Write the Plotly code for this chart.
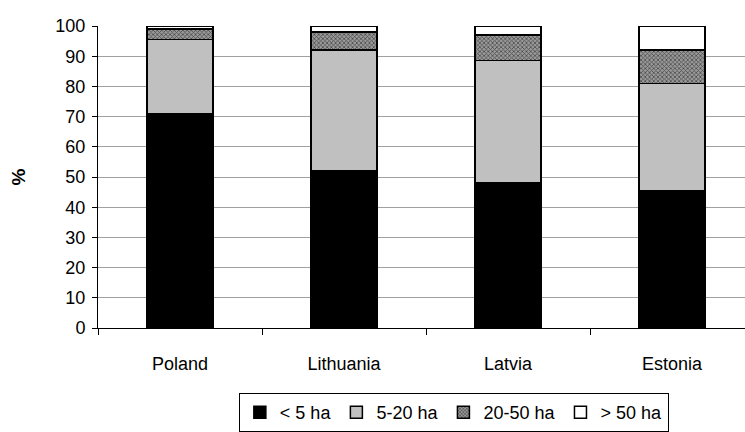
import plotly.graph_objects as go

countries = ["Poland", "Lithuania", "Latvia", "Estonia"]
size_groups = ["< 5 ha", "5-20 ha", "20-50 ha", "> 50 ha"]

share_lt5 = [71, 52, 48, 45.5]
share_5_20 = [24.5, 40, 40.5, 35.5]
share_20_50 = [3.5, 6, 8.5, 11]
share_gt50 = [1, 2, 3, 8]

y_ticks = [0, 10, 20, 30, 40, 50, 60, 70, 80, 90, 100]

series = [share_lt5, share_5_20, share_20_50, share_gt50]
fills = ["#000000", "#c0c0c0", "#8a8a8a", "#ffffff"]

fig = go.Figure()
for name, vals, col in zip(size_groups, series, fills):
    marker = dict(color=col, line=dict(color="#000000", width=1.5))
    if name == "20-50 ha":
        marker["pattern"] = dict(shape="x", fgcolor="#4a4a4a", bgcolor="#9a9a9a",
                                 size=3, solidity=0.45, fillmode="replace")
    fig.add_trace(go.Bar(x=countries, y=vals, name=name, marker=marker, width=0.4))

fig.update_layout(
    barmode="stack",
    width=745, height=432,
    margin=dict(l=98, r=0, t=26, b=102),
    paper_bgcolor="white", plot_bgcolor="white",
    font=dict(family="Liberation Sans, Arial, sans-serif", size=18, color="#000000"),
    showlegend=True,
    legend=dict(orientation="h", x=0.55, xanchor="center", y=-0.215, yanchor="top",
                bordercolor="#000000", borderwidth=1, font=dict(size=18),
                itemwidth=30, tracegroupgap=0, traceorder="normal"),
    xaxis=dict(range=[-0.5, 3.445], showline=True, linecolor="#000000", linewidth=1,
               ticks="outside", tickson="boundaries", ticklen=6, tickcolor="#000000",
               showgrid=False, ticklabelstandoff=19),
    yaxis=dict(range=[0, 100], tickvals=y_ticks, showline=True, linecolor="#000000",
               linewidth=1, ticks="outside", ticklen=5, tickcolor="#000000",
               showgrid=True, gridcolor="#a0a0a0", gridwidth=1, zeroline=False,
               ticklabelstandoff=3,
               title=dict(text="<b>%</b>", font=dict(size=19), standoff=24)),
)

fig.write_html("out.html")
